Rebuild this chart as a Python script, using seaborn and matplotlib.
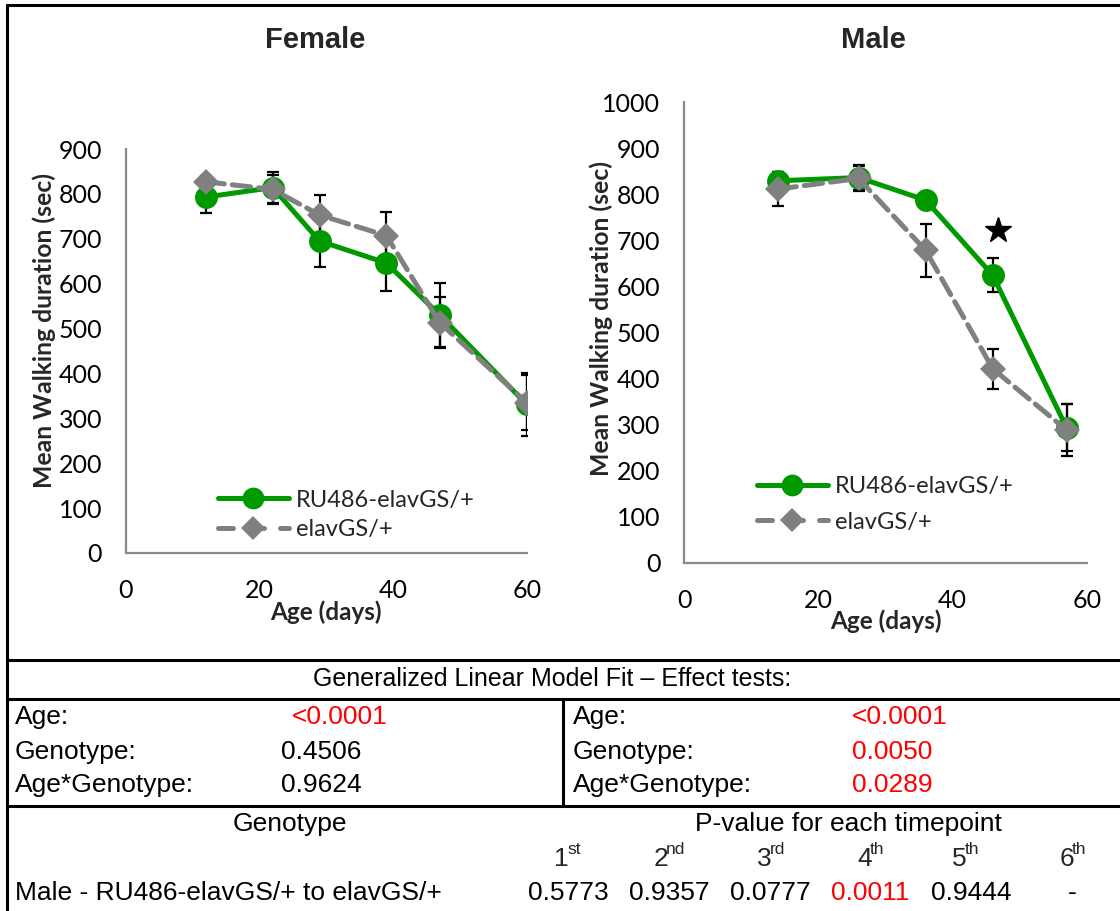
import numpy as np
import pandas as pd
import matplotlib
matplotlib.use("Agg")
import matplotlib.pyplot as plt
from matplotlib.lines import Line2D
import seaborn as sns

# ---------------- data ----------------
genotypes = ["RU486-elavGS/+", "elavGS/+"]

female_age = [12, 22, 29, 39, 47, 60]
female_ru486 = [793, 814, 695, 646, 530, 331]
female_ru486_err = [35, 35, 57, 63, 71, 71]
female_ctrl = [827, 810, 753, 707, 513, 335]
female_ctrl_err = [12, 33, 44, 53, 57, 62]

male_age = [14, 26, 36, 46, 57]
male_ru486 = [829, 836, 787, 624, 293]
male_ru486_err = [20, 28, 15, 37, 51]
male_ctrl = [811, 834, 678, 421, 288]
male_ctrl_err = [36, 28, 57, 43, 57]

star_age = [46.8]
star_value = [722]

x_ticks = [0, 20, 40, 60]
female_y_ticks = list(range(0, 901, 100))
male_y_ticks = list(range(0, 1001, 100))

table_title = "Generalized Linear Model Fit \u2013 Effect tests:"
effect_terms = ["Age:", "Genotype:", "Age*Genotype:"]
female_effect_p = ["<0.0001", "0.4506", "0.9624"]
male_effect_p = ["<0.0001", "0.0050", "0.0289"]
female_effect_sig = [True, False, False]
male_effect_sig = [True, True, True]
ordinal_num = ["1", "2", "3", "4", "5", "6"]
ordinal_suf = ["st", "nd", "rd", "th", "th", "th"]
comparison_label = "Male - RU486-elavGS/+ to elavGS/+"
timepoint_p = ["0.5773", "0.9357", "0.0777", "0.0011", "0.9444", "-"]
timepoint_sig = [False, False, False, True, False, False]

# ---------------- style ----------------
sns.set_theme(style="white")
plt.rcParams["font.family"] = ["Lato", "DejaVu Sans"]
plt.rcParams["lines.dash_capstyle"] = "round"

W, H = 1120, 911
fig = plt.figure(figsize=(W / 100, H / 100), dpi=100)
fig.patch.set_facecolor("white")


def fx(x):
    return x / W


def fy(y):
    return 1 - y / H


GREEN = "#009900"
GREY = "#808080"
SPINE = "#8a8a8a"
palette = {genotypes[0]: GREEN, genotypes[1]: GREY}
markers = {genotypes[0]: "o", genotypes[1]: "D"}
dashes = {genotypes[0]: "", genotypes[1]: (3, 3.2)}
msize = {genotypes[0]: 16.5, genotypes[1]: 13}


def panel(rect, ages, g_vals, g_err, c_vals, c_err, ymax, yticks):
    ax = fig.add_axes(rect)
    df = pd.DataFrame({
        "Age": list(ages) + list(ages),
        "Duration": list(g_vals) + list(c_vals),
        "Genotype": [genotypes[0]] * len(ages) + [genotypes[1]] * len(ages),
    })
    # error bars (behind the series)
    ax.errorbar(ages, g_vals, yerr=g_err, fmt="none", ecolor="black",
                elinewidth=1.6, capsize=4.3, capthick=1.6, zorder=1)
    ax.errorbar(ages, c_vals, yerr=c_err, fmt="none", ecolor="black",
                elinewidth=1.6, capsize=4.3, capthick=1.6, zorder=1)
    for gname in genotypes:
        sub = df[df["Genotype"] == gname]
        sns.lineplot(data=sub, x="Age", y="Duration", color=palette[gname],
                     marker=markers[gname], markersize=msize[gname],
                     markeredgewidth=0, linewidth=3.6, ax=ax, legend=False,
                     linestyle="-" if gname == genotypes[0] else "--",
                     dashes=dashes[gname] if gname == genotypes[1] else None,
                     zorder=3)
    ax.set_xlim(0, 60)
    ax.set_ylim(0, ymax)
    ax.set_xticks(x_ticks)
    ax.set_yticks(yticks)
    ax.set_xlabel("")
    ax.set_ylabel("")
    for s in ["top", "right"]:
        ax.spines[s].set_visible(False)
    for s in ["left", "bottom"]:
        ax.spines[s].set_color(SPINE)
        ax.spines[s].set_linewidth(1.6)
    ax.tick_params(axis="both", direction="out", length=7, width=1.6,
                   color=SPINE, labelsize=18, labelcolor="black")
    ax.tick_params(axis="y", pad=10)
    ax.tick_params(axis="x", pad=12)
    ax.patch.set_alpha(0)
    for sp in ax.spines.values():
        sp.set_zorder(0.5)
    return ax


# Female panel: x 0..60 -> px 125.7..526.7 ; y 0..900 -> px 553..149
axf = panel([fx(125.7), fy(553), 401 / W, (553 - 149) / H],
            female_age, female_ru486, female_ru486_err,
            female_ctrl, female_ctrl_err, 900, female_y_ticks)
# Male panel: x 0..60 -> px 684..1086.7 ; y 0..1000 -> px 562.7..102
axm = panel([fx(684), fy(562.7), 402.7 / W, (562.7 - 102) / H],
            male_age, male_ru486, male_ru486_err,
            male_ctrl, male_ctrl_err, 1000, male_y_ticks)
axm.plot(star_age, star_value, linestyle="none", marker="*", markersize=19,
         color="black", zorder=5)


def make_legend(ax, x, y, spacing):
    handles = []
    for gname in genotypes:
        h = Line2D([0], [0], color=palette[gname], marker=markers[gname],
                   markersize=msize[gname] * 0.95, markeredgewidth=0,
                   linewidth=3.6,
                   linestyle="-" if gname == genotypes[0] else (0, (3, 3.2)))
        handles.append(h)
    leg = ax.legend(handles, genotypes, loc="center left",
                    bbox_to_anchor=(fx(x), fy(y)),
                    bbox_transform=fig.transFigure, frameon=False,
                    fontsize=17, handlelength=3.0, handletextpad=0.3,
                    labelspacing=spacing, borderpad=0, borderaxespad=0)
    return leg


make_legend(axf, 217.7, 515, 0.38)
make_legend(axm, 757, 504.5, 0.6)

# titles and axis labels
fig.text(fx(315), fy(40), "Female", ha="center", va="center",
         fontsize=21, fontweight="bold", family="Liberation Sans")
fig.text(fx(873), fy(40), "Male", ha="center", va="center",
         fontsize=21, fontweight="bold", family="Liberation Sans")
fig.text(fx(44), fy(331), "Mean Walking duration (sec)", rotation=90,
         ha="center", va="center", fontsize=17.8, fontweight="bold")
fig.text(fx(601), fy(318), "Mean Walking duration (sec)", rotation=90,
         ha="center", va="center", fontsize=17.8, fontweight="bold")
fig.text(fx(325.5), fy(612), "Age (days)", ha="center", va="center",
         fontsize=17.5, fontweight="bold")
fig.text(fx(885.5), fy(621), "Age (days)", ha="center", va="center",
         fontsize=17.5, fontweight="bold")

# ---------------- frame and table ----------------
LW = 2.2


def hline(y, x0=7, x1=W):
    fig.add_artist(Line2D([fx(x0), fx(x1)], [fy(y), fy(y)],
                          transform=fig.transFigure, color="black", lw=LW))


def vline(x, y0, y1):
    fig.add_artist(Line2D([fx(x), fx(x)], [fy(y0), fy(y1)],
                          transform=fig.transFigure, color="black", lw=LW))


hline(5)
vline(7, 5, H)
hline(660)
hline(699)
hline(806)
vline(563, 699, 806)

TF = "Liberation Sans"
TS = 19
RED = "#ff0000"


def ttext(x, y, s, ha="left", color="black", size=TS):
    fig.text(fx(x), fy(y), s, ha=ha, va="center", fontsize=size,
             family=TF, color=color)


ttext(552, 679, table_title, ha="center", size=18)
row_y = [717, 752, 785]
for i, term in enumerate(effect_terms):
    ttext(15, row_y[i], term)
    ttext(573, row_y[i], term)
    xl = 292 if female_effect_p[i].startswith("<") else 281
    ttext(xl, row_y[i], female_effect_p[i],
          color=RED if female_effect_sig[i] else "black")
    ttext(852, row_y[i], male_effect_p[i],
          color=RED if male_effect_sig[i] else "black")

ttext(290, 824, "Genotype", ha="center")
ttext(848, 824, "P-value for each timepoint", ha="center")

split_x = [569, 668, 772, 872, 967, 1074]
for i in range(6):
    fig.text(fx(split_x[i]), fy(866), ordinal_num[i], ha="right",
             va="baseline", fontsize=TS, family=TF)
    fig.text(fx(split_x[i] - 2), fy(854), ordinal_suf[i], ha="left",
             va="baseline", fontsize=12.5, family=TF)

ttext(15, 893, comparison_label)
val_x = [568, 669, 770, 870, 971, 1072]
for i in range(6):
    ttext(val_x[i], 893, timepoint_p[i], ha="center",
          color=RED if timepoint_sig[i] else "black")

fig.savefig("out.png", dpi=100, facecolor="white")
